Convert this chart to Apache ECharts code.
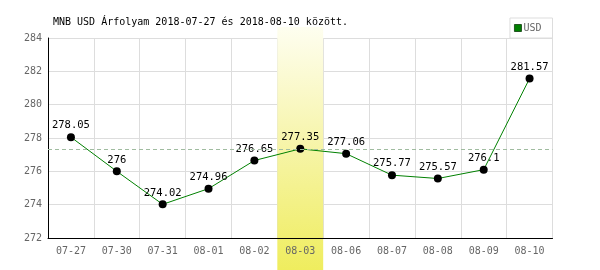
<!DOCTYPE html>
<html><head><meta charset="utf-8">
<script src="https://cdn.jsdelivr.net/npm/echarts@6/dist/echarts.min.js"></script>
<style>html,body{margin:0;padding:0;background:#fff}#c{width:600px;height:270px}</style>
</head><body><div id="c"></div>
<script>
const titleText = 'MNB USD Árfolyam 2018-07-27 és 2018-08-10 között.';
const categories = ['07-27','07-30','07-31','08-01','08-02','08-03','08-06','08-07','08-08','08-09','08-10'];
const usdValues = [278.05, 276, 274.02, 274.96, 276.65, 277.35, 277.06, 275.77, 275.57, 276.1, 281.57];
const highlightCategory = ['08-03'];
const refLineValue = [277.35];
const yTicks = [272, 274, 276, 278, 280, 282, 284];

const mono = 'DejaVu Sans Mono';
const chart = echarts.init(document.getElementById('c'), null, {renderer:'canvas'});
const yMin = yTicks[0], yMax = yTicks[yTicks.length-1];
chart.setOption({
  animation: false,
  title: {text: titleText, left: 48, top: 12, textStyle:{fontFamily: mono, fontSize: 10, fontWeight:'normal', color:'#000'}},
  legend: {
    right: 47.5, top: 18, orient:'horizontal', borderColor:'#ddd', borderWidth:1, borderRadius:0,
    padding:[5,11,5,4], itemWidth:7, itemHeight:7, itemGap:2, icon:'rect',
    data:[{name:'USD', itemStyle:{color:'#008000', borderColor:'#225522', borderWidth:1}}],
    textStyle:{fontFamily: mono, fontSize:10, color:'#666', padding:[0,0,0,-3]}
  },
  grid: {left: 48, right: 47.5, top: 38, bottom: 32},
  xAxis: [{
    type:'category', data: categories, boundaryGap: true, z:0,
    axisLine:{show:false},
    axisTick:{show:false},
    axisLabel:{show:false},
    splitLine:{show:true, lineStyle:{color:'#ddd', width:1}}
  },{
    type:'category', data: categories, boundaryGap: true, position:'bottom', z:5,
    axisLine:{show:true, onZero:false, lineStyle:{color:'#000', width:1}},
    axisTick:{show:false},
    axisLabel:{fontFamily: mono, fontSize:10, color:'#666', margin:8},
    splitLine:{show:false}
  }],
  yAxis: {
    type:'value', min: yMin, max: yMax, interval: 2, z:0,
    axisLine:{show:true, lineStyle:{color:'#000', width:1}},
    axisTick:{show:false},
    axisLabel:{fontFamily: mono, fontSize:10, color:'#666', margin:6},
    splitLine:{show:true, lineStyle:{color:'#ddd', width:1}}
  },
  series: [
    {
      type:'custom', name:'band', silent:true, z:1, xAxisIndex:0,
      data: highlightCategory.map(c => [c]),
      renderItem: function(params, api){
        const top = api.coord([api.value(0), yMax]);
        const w = api.size([1, 0])[0];
        const y0 = top[1] - 11;
        const h = api.getHeight() - y0;
        return {
          type:'rect',
          shape:{x: top[0]-w/2, y: y0, width: w, height: h},
          style:{fill: new echarts.graphic.LinearGradient(0,0,0,1,[
            {offset:0, color:'#fefef0'},
            {offset:0.45, color:'#f7f5ae'},
            {offset:1, color:'#efed5e'}
          ])}
        };
      }
    },
    {
      type:'line', name:'USD', data: usdValues, z:3, xAxisIndex:0,
      symbol:'circle', symbolSize:8,
      itemStyle:{color:'#000'},
      lineStyle:{color:'#008000', width:1},
      label:{show:true, position:'top', distance:2, fontFamily: mono, fontSize:10.5, color:'#000'},
      markLine:{
        silent:true, symbol:'none', label:{show:false},
        lineStyle:{color:'#a0bca0', type:[4,3], width:1},
        data: refLineValue.map(v => ({yAxis: v}))
      }
    }
  ]
});
</script></body></html>
